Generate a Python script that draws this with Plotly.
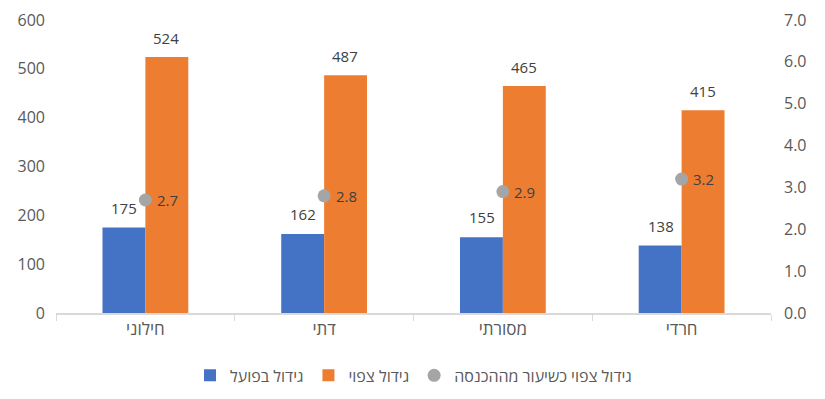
import plotly.graph_objects as go

categories = ["חילוני", "דתי", "מסורתי", "חרדי"]
actual_growth = [175, 162, 155, 138]
expected_growth = [524, 487, 465, 415]
expected_pct_income = [2.7, 2.8, 2.9, 3.2]

names = ["גידול בפועל", "גידול צפוי", "גידול צפוי כשיעור מההכנסה"]

FONT = "Open Sans, Liberation Sans, DejaVu Sans, sans-serif"
TICK = "#595959"
LBL = "#404040"

fig = go.Figure()
fig.add_trace(go.Bar(
    x=categories, y=actual_growth, name=names[0],
    marker=dict(color="#4472C4", line=dict(width=0)),
))
fig.add_trace(go.Bar(
    x=categories, y=expected_growth, name=names[1],
    marker=dict(color="#ED7D31", line=dict(width=0)),
))
fig.add_trace(go.Scatter(
    x=categories, y=expected_pct_income, name=names[2], yaxis="y2",
    mode="markers",
    marker=dict(color="#A5A5A5", size=13),
))

# data labels
for c, v in zip(categories, actual_growth):
    fig.add_annotation(x=c, y=v, text=str(v), xref="x", yref="y",
                       xshift=-21, yshift=20, showarrow=False,
                       font=dict(color=LBL, size=15, family=FONT))
for c, v in zip(categories, expected_growth):
    fig.add_annotation(x=c, y=v, text=str(v), xref="x", yref="y",
                       xshift=21, yshift=19, showarrow=False,
                       font=dict(color=LBL, size=15, family=FONT))
for c, v in zip(categories, expected_pct_income):
    fig.add_annotation(x=c, y=v, text=f"{v:.1f}", xref="x", yref="y2",
                       xshift=22, yshift=0, showarrow=False,
                       font=dict(color=LBL, size=15, family=FONT))

fig.update_layout(
    width=825, height=399,
    margin=dict(l=56, r=54, t=20, b=86, autoexpand=False),
    paper_bgcolor="white", plot_bgcolor="white",
    barmode="group", bargap=0.52, bargroupgap=0,
    font=dict(family=FONT, color=TICK, size=15),
    showlegend=True,
    legend=dict(orientation="h", x=0.5, xanchor="center", y=-0.155, yanchor="top",
                font=dict(size=16, color=TICK), itemwidth=30,
                traceorder="normal"),
    xaxis=dict(
        automargin=False,
        showline=True, linecolor="#D9D9D9", linewidth=1.5,
        ticks="outside", tickson="boundaries", ticklen=6, tickcolor="#D9D9D9",
        tickfont=dict(size=17, color=TICK), showgrid=False,
    ),
    yaxis=dict(
        automargin=False,
        range=[0, 600], dtick=100, showgrid=False, zeroline=False,
        tickfont=dict(size=16, color=TICK), ticklabelstandoff=10,
    ),
    yaxis2=dict(
        automargin=False,
        range=[0, 7], dtick=1, tickformat=".1f", overlaying="y", side="right",
        showgrid=False, zeroline=False,
        tickfont=dict(size=16, color=TICK), ticklabelstandoff=12,
    ),
)

fig.write_html("out.html", config={"displayModeBar": False},
               post_script="document.body.style.margin='0';document.body.style.overflow='hidden';")
